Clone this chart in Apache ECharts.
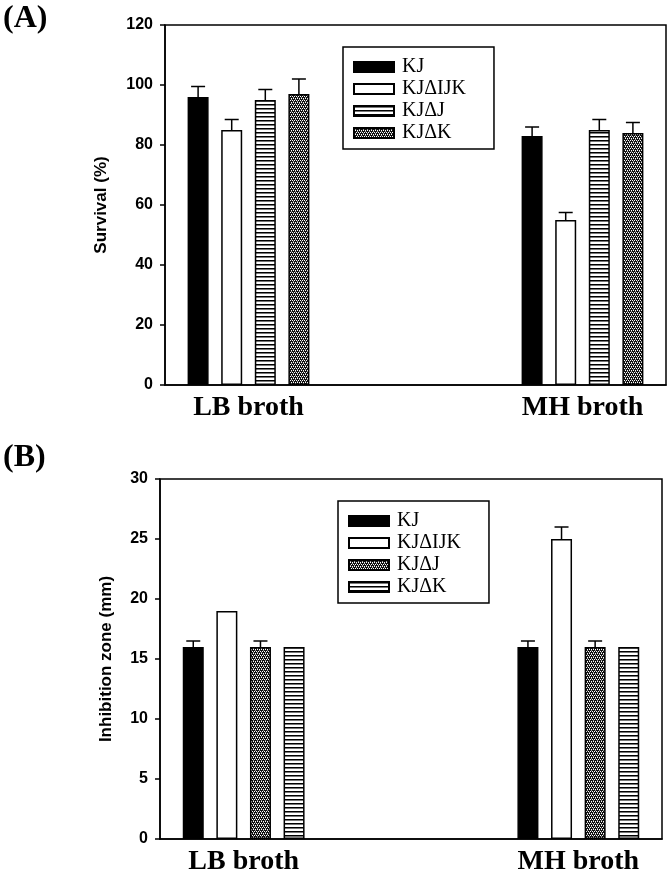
<!DOCTYPE html>
<html>
<head>
<meta charset="utf-8">
<script src="https://cdn.jsdelivr.net/npm/echarts@6/dist/echarts.min.js"></script>
<style>
html,body{margin:0;padding:0;background:#fff;}
#a{width:672px;height:439px;}
#b{width:672px;height:439px;}
</style>
</head>
<body>
<div id="a"></div>
<div id="b"></div>
<script>
// ---- data ----
const categories = ['LB broth', '', 'MH broth'];
const seriesNames = ['KJ', 'KJΔIJK', 'KJΔJ', 'KJΔK'];

// Panel A: Survival (%)
const survKJ      = [96, null, 83];
const survKJdIJK  = [85, null, 55];
const survKJdJ    = [95, null, 85];
const survKJdK    = [97, null, 84];
const survErrKJ     = [3.5, null, 3];
const survErrKJdIJK = [3.5, null, 2.5];
const survErrKJdJ   = [3.5, null, 3.5];
const survErrKJdK   = [5, null, 3.5];
const survTicks = [0, 20, 40, 60, 80, 100, 120];

// Panel B: Inhibition zone (mm)
const inhKJ      = [16, null, 16];
const inhKJdIJK  = [19, null, 25];
const inhKJdJ    = [16, null, 16];
const inhKJdK    = [16, null, 16];
const inhErrKJ     = [0.5, null, 0.5];
const inhErrKJdIJK = [0, null, 1];
const inhErrKJdJ   = [0.5, null, 0.5];
const inhErrKJdK   = [0, null, 0];
const inhTicks = [0, 5, 10, 15, 20, 25, 30];

// ---- patterns ----
function hlinePattern(){
  const c = document.createElement('canvas'); c.width = 4; c.height = 4;
  const g = c.getContext('2d');
  g.fillStyle = '#fff'; g.fillRect(0,0,4,4);
  g.fillStyle = '#000'; g.fillRect(0,0,4,1);
  g.fillStyle = '#777'; g.fillRect(0,1,4,1);
  return {image: c, repeat: 'repeat'};
}
function checkerPattern(){
  const c = document.createElement('canvas'); c.width = 4; c.height = 4;
  const g = c.getContext('2d');
  g.fillStyle = '#111'; g.fillRect(0,0,4,4);
  g.fillStyle = '#fff';
  g.fillRect(0,0,1,1); g.fillRect(2,0,1,1); g.fillRect(1,2,1,1); g.fillRect(3,2,1,1);
  g.fillStyle = '#999';
  g.fillRect(1,1,1,1); g.fillRect(3,3,1,1);
  return {image: c, repeat: 'repeat'};
}
const BLACK = '#000', WHITE = '#fff';

const BAR_W = 21, GAP_RATIO = 0.6;
function errSeries(vals, errs, idx){
  const data = [];
  vals.forEach((v, i) => { if (v != null && errs[i]) data.push([i, v, errs[i]]); });
  return {
    type: 'custom', z: 5, silent: true,
    data: data,
    renderItem: function(params, api){
      const x = api.value(0), v = api.value(1), e = api.value(2);
      const base = api.coord([x, v]);
      const top = api.coord([x, v + e]);
      const off = (idx - 1.5) * (BAR_W * (1 + GAP_RATIO));
      const cx = base[0] + off;
      const st = {stroke: '#000', lineWidth: 1.5};
      return {type: 'group', children: [
        {type: 'line', shape: {x1: cx, y1: base[1], x2: cx, y2: top[1]}, style: st},
        {type: 'line', shape: {x1: cx - 7, y1: top[1], x2: cx + 7, y2: top[1]}, style: st}
      ]};
    }
  };
}
function barSeries(name, vals, color){
  return {
    name: name, type: 'bar', data: vals, barWidth: BAR_W, barGap: (GAP_RATIO*100)+'%',
    itemStyle: {color: color, borderColor: '#000', borderWidth: 1.5},
    emphasis: {disabled: true}
  };
}

function makeOption(cfg){
  return {
    animation: false,
    backgroundColor: '#fff',
    graphic: [{type: 'text', left: 3, top: 3, style: {text: cfg.panel, font: 'bold 32px "Liberation Serif"', fill: '#000'}}],
    grid: {left: cfg.left, top: cfg.top, width: cfg.width, height: 360, show: true, borderColor: '#000', borderWidth: 1.5, backgroundColor: 'transparent'},
    legend: {
      orient: 'vertical', left: cfg.legLeft, top: cfg.legTop,
      data: seriesNames, icon: 'rect', itemWidth: 40, itemHeight: 10, itemGap: 2,
      borderColor: '#000', borderWidth: 1.5, padding: [10, 28, 6, 10],
      textStyle: {fontFamily: 'Liberation Serif', fontSize: 20, color: '#000', padding: [0,0,0,3]},
      selectedMode: false
    },
    xAxis: {
      type: 'category', data: categories,
      axisLine: {lineStyle: {color: '#000', width: 1.5}},
      axisTick: {show: false},
      axisLabel: {interval: 0, margin: 9, fontFamily: 'Liberation Serif', fontWeight: 'bold', fontSize: 28, color: '#000'}
    },
    yAxis: {
      type: 'value', min: cfg.ticks[0], max: cfg.ticks[cfg.ticks.length-1], interval: cfg.ticks[1]-cfg.ticks[0],
      name: cfg.yName, nameLocation: 'middle', nameGap: cfg.nameGap, nameRotate: 90,
      nameTextStyle: {fontFamily: 'Liberation Sans', fontWeight: 'bold', fontSize: 17, color: '#000'},
      axisLine: {show: true, lineStyle: {color: '#000', width: 1.5}},
      axisTick: {show: true, length: 5, lineStyle: {color: '#000', width: 1.5}},
      splitLine: {show: false},
      axisLabel: {margin: 12, fontFamily: 'Liberation Sans', fontWeight: 'bold', fontSize: 16, color: '#000'}
    },
    series: cfg.bars.map((b, i) => barSeries(seriesNames[i], b.vals, b.color))
      .concat(cfg.bars.map((b, i) => errSeries(b.vals, b.errs, i)))
  };
}

const chartA = echarts.init(document.getElementById('a'), null, {renderer: 'canvas'});
chartA.setOption(makeOption({
  panel: '(A)', left: 165, top: 25, width: 501, ticks: survTicks, yName: 'Survival (%)', nameGap: 55,
  legLeft: 343, legTop: 47,
  bars: [
    {vals: survKJ, errs: survErrKJ, color: BLACK},
    {vals: survKJdIJK, errs: survErrKJdIJK, color: WHITE},
    {vals: survKJdJ, errs: survErrKJdJ, color: hlinePattern()},
    {vals: survKJdK, errs: survErrKJdK, color: checkerPattern()}
  ]
}));

const chartB = echarts.init(document.getElementById('b'), null, {renderer: 'canvas'});
chartB.setOption(makeOption({
  panel: '(B)', left: 160, top: 40, width: 502, ticks: inhTicks, yName: 'Inhibition zone (mm)', nameGap: 45,
  legLeft: 338, legTop: 62,
  bars: [
    {vals: inhKJ, errs: inhErrKJ, color: BLACK},
    {vals: inhKJdIJK, errs: inhErrKJdIJK, color: WHITE},
    {vals: inhKJdJ, errs: inhErrKJdJ, color: checkerPattern()},
    {vals: inhKJdK, errs: inhErrKJdK, color: hlinePattern()}
  ]
}));
</script>
</body>
</html>
